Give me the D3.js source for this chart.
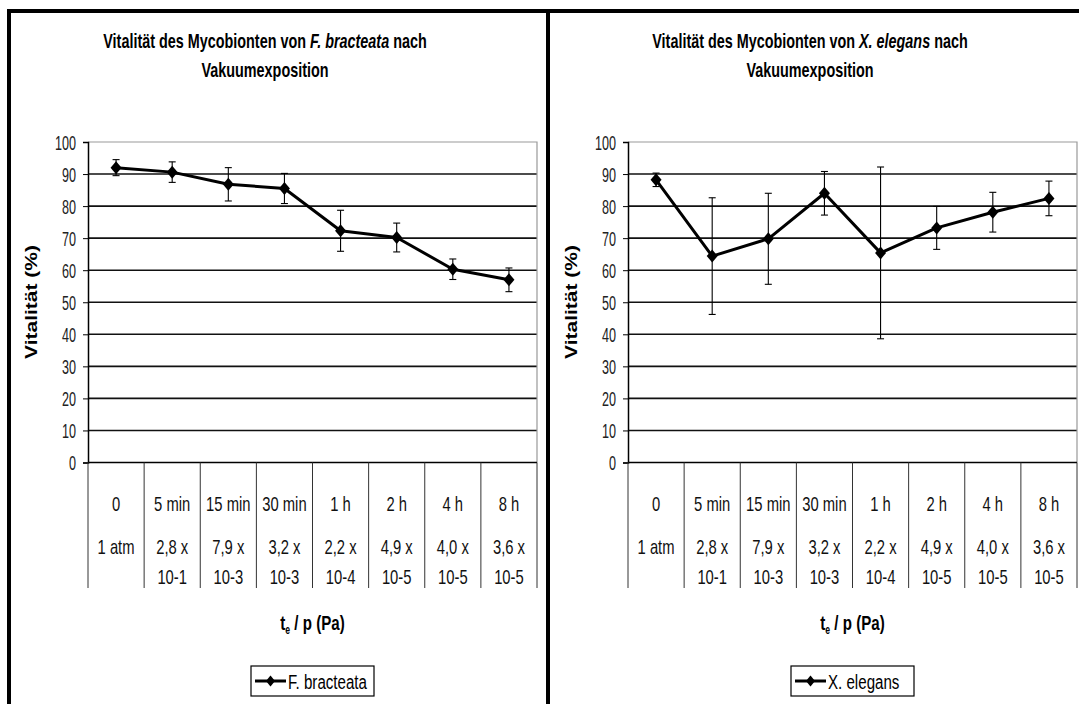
<!DOCTYPE html>
<html>
<head>
<meta charset="utf-8">
<script src="https://cdn.jsdelivr.net/npm/d3@7"></script>
<style>
  html, body { margin: 0; padding: 0; background: #fff; }
  svg { display: block; }
  text { font-family: "Liberation Sans", Arial, sans-serif; fill: #000; }
</style>
</head>
<body>
<svg id="chart" width="1079" height="704"></svg>
<script>
// Exposure time / pressure categories shared by both panels
const timeLabels = ["0", "5 min", "15 min", "30 min", "1 h", "2 h", "4 h", "8 h"];
const pressureMantissa = ["1 atm", "2,8 x", "7,9 x", "3,2 x", "2,2 x", "4,9 x", "4,0 x", "3,6 x"];
const pressureExponent = ["", "10-1", "10-3", "10-3", "10-4", "10-5", "10-5", "10-5"];
const yTickValues = [0, 10, 20, 30, 40, 50, 60, 70, 80, 90, 100];

// Vitality (%) of the mycobiont, mean and error per exposure step
const bracteataMean = [92.0, 90.6, 86.8, 85.5, 72.3, 70.2, 60.3, 57.0];
const bracteataErr  = [2.5, 3.2, 5.2, 4.7, 6.4, 4.5, 3.2, 3.7];
const elegansMean   = [88.2, 64.4, 69.8, 84.0, 65.4, 73.2, 78.1, 82.4];
const elegansErr    = [2.1, 18.2, 14.2, 6.8, 26.8, 6.7, 6.2, 5.4];

const panels = [
  { dx: 0,   species: "F. bracteata", titleItalic: "F. bracteata", mean: bracteataMean, err: bracteataErr, titleCx: 265 },
  { dx: 540, species: "X. elegans",   titleItalic: "X. elegans",   mean: elegansMean,   err: elegansErr,   titleCx: 810 }
];

const svg = d3.select("#chart");
const SX = 0.72; // horizontal condensing of the lettering

// outer frames
svg.append("rect").attr("x", 7).attr("y", 9).attr("width", 1079).attr("height", 4).attr("fill", "#000");
svg.append("rect").attr("x", 7).attr("y", 9).attr("width", 4).attr("height", 700).attr("fill", "#000");
svg.append("rect").attr("x", 546).attr("y", 9).attr("width", 4).attr("height", 700).attr("fill", "#000");

function ntext(g, x, y, str, opts = {}) {
  const t = g.append("text")
    .attr("transform", `translate(${x},${y}) scale(${opts.sx || SX},1)`)
    .attr("text-anchor", opts.anchor || "middle")
    .attr("font-size", opts.size || 18)
    .attr("font-weight", opts.bold ? "bold" : "normal");
  if (opts.fill) t.style("fill", opts.fill);
  t.text(str);
  return t;
}

panels.forEach(p => {
  const g = svg.append("g");
  const x = d3.scaleBand().domain(timeLabels).range([88 + p.dx, 537 + p.dx]);
  const y = d3.scaleLinear().domain([0, 100]).range([462.5, 142]);
  const cx = i => x(timeLabels[i]) + x.bandwidth() / 2;

  // title
  const title = g.append("text")
    .attr("transform", `translate(${p.titleCx},48) scale(${SX},1)`)
    .attr("text-anchor", "middle").attr("font-size", 20).attr("font-weight", "bold");
  title.append("tspan").text("Vitalität des Mycobionten von ");
  title.append("tspan").attr("font-style", "italic").text(p.titleItalic);
  title.append("tspan").text(" nach");
  ntext(g, p.titleCx, 77, "Vakuumexposition", { size: 20, bold: true });

  // horizontal gridlines
  g.append("g").selectAll("line").data(yTickValues.filter(v => v > 0 && v < 100)).join("line")
    .attr("x1", x.range()[0]).attr("x2", x.range()[1])
    .attr("y1", d => y(d)).attr("y2", d => y(d))
    .attr("stroke", "#111").attr("stroke-width", 1.6);
  // plot frame (top/right in grey)
  g.append("path")
    .attr("d", `M${x.range()[0]},${y(100)}H${x.range()[1]}V${y(0)}`)
    .attr("fill", "none").attr("stroke", "#999").attr("stroke-width", 1.2);

  // y axis
  const yAxis = d3.axisLeft(y).tickValues(yTickValues).tickSize(5).tickFormat(d3.format("d"));
  const ya = g.append("g").attr("transform", `translate(${x.range()[0]},0)`).call(yAxis);
  ya.select(".domain").attr("stroke", "#000").attr("stroke-width", 1.5);
  ya.selectAll(".tick line").attr("stroke", "#000");
  ya.selectAll(".tick text").remove();
  yTickValues.forEach(v => {
    ntext(g, x.range()[0] - 12, y(v) + 7.5, String(v), { anchor: "end", size: 21, sx: 0.6, fill: "#222" });
  });

  // x axis baseline
  g.append("line").attr("x1", x.range()[0]).attr("x2", x.range()[1])
    .attr("y1", y(0)).attr("y2", y(0)).attr("stroke", "#000").attr("stroke-width", 1.6);

  // category table separators
  const bounds = timeLabels.map(d => x(d)).concat([x.range()[1]]);
  g.append("g").selectAll("line").data(bounds).join("line")
    .attr("x1", d => d).attr("x2", d => d).attr("y1", y(0)).attr("y2", 588)
    .attr("stroke", "#333").attr("stroke-width", 1);

  timeLabels.forEach((lab, i) => {
    ntext(g, cx(i), 511, lab, { size: 20, sx: 0.74, fill: "#111" });
    ntext(g, cx(i), 554, pressureMantissa[i], { size: 20, sx: 0.74, fill: "#111" });
    if (pressureExponent[i]) ntext(g, cx(i), 584, pressureExponent[i], { size: 20, sx: 0.74, fill: "#111" });
  });

  // x axis title
  const xc = (x.range()[0] + x.range()[1]) / 2;
  const xt = g.append("text")
    .attr("transform", `translate(${xc},630) scale(${SX},1)`)
    .attr("text-anchor", "middle").attr("font-size", 21).attr("font-weight", "bold");
  xt.append("tspan").text("t");
  xt.append("tspan").attr("font-size", 12).attr("dy", 4).text("e");
  xt.append("tspan").attr("dy", -4).text(" / p (Pa)");

  // y axis title
  g.append("text")
    .attr("transform", `translate(${37 + p.dx},302) rotate(-90) scale(1,0.82)`)
    .attr("text-anchor", "middle").attr("font-size", 21).attr("font-weight", "bold")
    .text("Vitalität (%)");

  // error bars
  const eb = g.append("g").attr("stroke", "#000").attr("stroke-width", 1.1);
  p.mean.forEach((m, i) => {
    const top = y(m + p.err[i]), bot = y(m - p.err[i]), xx = cx(i);
    eb.append("line").attr("x1", xx).attr("x2", xx).attr("y1", top).attr("y2", bot);
    eb.append("line").attr("x1", xx - 3.5).attr("x2", xx + 3.5).attr("y1", top).attr("y2", top);
    eb.append("line").attr("x1", xx - 3.5).attr("x2", xx + 3.5).attr("y1", bot).attr("y2", bot);
  });

  // series line
  const line = d3.line().x((d, i) => cx(i)).y(d => y(d));
  g.append("path").datum(p.mean).attr("d", line)
    .attr("fill", "none").attr("stroke", "#000").attr("stroke-width", 3).attr("stroke-linejoin", "round");

  // diamond markers
  const diamond = (w, h) => `M0,${-h / 2}L${w / 2},0L0,${h / 2}L${-w / 2},0Z`;
  g.append("g").selectAll("path").data(p.mean).join("path")
    .attr("transform", (d, i) => `translate(${cx(i)},${y(d)})`)
    .attr("d", diamond(11, 13)).attr("fill", "#000");

  // legend
  const lw = 123, lh = 30, lx = xc - lw / 2, ly = 666;
  const lg = g.append("g");
  lg.append("rect").attr("x", lx).attr("y", ly).attr("width", lw).attr("height", lh)
    .attr("fill", "#fff").attr("stroke", "#000").attr("stroke-width", 1.2);
  lg.append("line").attr("x1", lx + 4).attr("x2", lx + 35).attr("y1", ly + lh / 2).attr("y2", ly + lh / 2)
    .attr("stroke", "#000").attr("stroke-width", 3);
  lg.append("path").attr("transform", `translate(${lx + 19.5},${ly + lh / 2})`)
    .attr("d", diamond(9, 11)).attr("fill", "#000");
  ntext(lg, lx + 37, ly + lh / 2 + 7.5, p.species, { anchor: "start", size: 21, sx: 0.72 });
});
</script>
</body>
</html>
